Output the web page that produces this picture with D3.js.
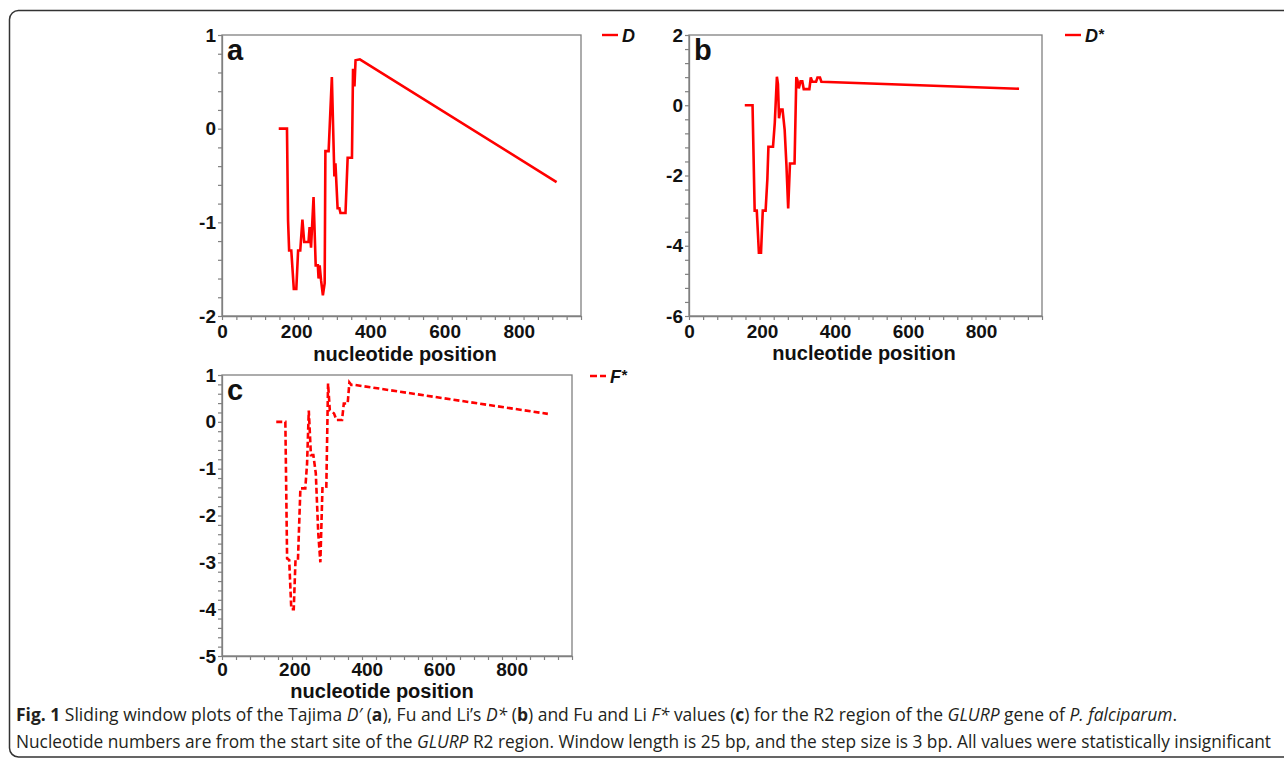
<!DOCTYPE html>
<html>
<head>
<meta charset="utf-8">
<script src="https://cdn.jsdelivr.net/npm/d3@7"></script>
<style>
  html, body { margin: 0; padding: 0; background: #fff; }
  svg { display: block; }
</style>
</head>
<body>
<svg id="chart" width="1284" height="770"></svg>
<script>
// ---------------- data ----------------
const xTickLabels = [0, 200, 400, 600, 800];

// (a) Tajima D
const aPos = [158,181,184,187,193,200,207,212,218,224,229,241,244,248,255,261,267,269,272,276,281,286,288,297,306,313,316,322,327,330,344,350,362,365,369,372,384,932];
const aD   = [0,0,-0.98,-1.30,-1.30,-1.71,-1.71,-1.30,-1.30,-0.97,-1.21,-1.21,-1.05,-1.27,-0.73,-1.46,-1.46,-1.60,-1.46,-1.62,-1.78,-1.65,-0.24,-0.24,0.55,-0.51,-0.37,-0.85,-0.85,-0.90,-0.90,-0.31,-0.31,0.64,0.45,0.73,0.74,-0.57];
const aYTicks = [1, 0, -1, -2];

// (b) Fu and Li's D*
const bPos   = [158,180,186,192,198,204,209,217,222,225,238,243,249,252,255,259,265,271,276,281,286,299,304,307,311,316,321,325,341,345,349,360,364,371,375,935];
const bDstar = [0,0,-3.0,-3.0,-4.2,-4.2,-3.0,-3.0,-2.1,-1.18,-1.18,-0.5,0.81,0.6,-0.37,-0.12,-0.12,-0.7,-1.7,-2.94,-1.66,-1.66,0.8,0.72,0.48,0.68,0.68,0.46,0.46,0.79,0.67,0.67,0.79,0.79,0.67,0.47];
const bYTicks = [2, 0, -2, -4, -6];

// (c) Fu and Li's F*
const cPos   = [155,181,186,192,198,205,210,217,224,238,243,248,254,261,268,275,281,287,298,303,308,314,320,327,343,348,359,364,369,378,931];
const cFstar = [0,0,-2.92,-2.95,-4.0,-4.0,-2.95,-2.95,-1.42,-1.42,-0.9,0.24,-0.71,-0.71,-1.1,-2.38,-3.0,-1.42,-1.42,0.82,0.25,0.22,0.18,0.04,0.04,0.39,0.39,0.84,0.79,0.79,0.17];
const cYTicks = [1, 0, -1, -2, -3, -4, -5];

// ---------------- drawing ----------------
const svg = d3.select("#chart");
const RED = "#ff0000";
const FRAME = "#808080";
const LABEL_FONT = "Liberation Sans, Arial, sans-serif";

// outer rounded border (right side runs off the page)
svg.append("path")
  .attr("d", "M1295,10.5 H19 A9,9 0 0 0 9.5,19.5 V748 A9,9 0 0 0 18.5,757 H1295")
  .attr("fill", "none").attr("stroke", "#333").attr("stroke-width", 1.5);

const panels = [
  { left: 222, top: 35, right: 581, bottom: 316, yDom: [-2, 1], yMinor: 0.2,
    pos: aPos, val: aD, yTicks: aYTicks, dash: null, letter: "a", xLabY: 22,
    titleX: 405, titleY: 361, legX: 602, legY: 35, legText: "D", legStar: false },
  { left: 689, top: 35, right: 1042, bottom: 316, yDom: [-6, 2], yMinor: 0.4,
    pos: bPos, val: bDstar, yTicks: bYTicks, dash: null, letter: "b", xLabY: 22,
    titleX: 864, titleY: 360, legX: 1065, legY: 35, legText: "D", legStar: true },
  { left: 222, top: 375, right: 572, bottom: 656, yDom: [-5, 1], yMinor: 0.2,
    pos: cPos, val: cFstar, yTicks: cYTicks, dash: "6,3", letter: "c", xLabY: 20,
    titleX: 382, titleY: 698, legX: 590, legY: 376, legText: "F", legStar: true }
];

panels.forEach(p => {
  const g = svg.append("g");
  const x = d3.scaleLinear().domain([0, 1000]).range([p.left, p.right]);
  const y = d3.scaleLinear().domain(p.yDom).range([p.bottom, p.top]);

  // frame
  g.append("rect")
    .attr("x", p.left).attr("y", p.top)
    .attr("width", p.right - p.left).attr("height", p.bottom - p.top)
    .attr("fill", "none").attr("stroke", FRAME).attr("stroke-width", 1.3);

  // x axis
  const xTickVals = d3.range(0, 26).map(i => i * 40);
  const xAxis = d3.axisBottom(x).tickValues(xTickVals).tickSize(4).tickSizeOuter(0)
    .tickFormat(d => xTickLabels.includes(d) ? String(d) : "");
  const gx = g.append("g").attr("transform", `translate(0,${p.bottom})`).call(xAxis);
  gx.select(".domain").attr("stroke", FRAME).attr("stroke-width", 1.3);
  gx.selectAll(".tick line").attr("stroke", FRAME).attr("stroke-width", 1.2);
  gx.selectAll(".tick text")
    .attr("font-family", LABEL_FONT)
    .attr("font-weight", "bold").attr("font-size", 19).attr("fill", "#111")
    .attr("dy", null).attr("y", p.xLabY)
    .attr("x", d => d * 0.012);

  // y axis
  const [ymin, ymax] = p.yDom;
  const nMinor = Math.round((ymax - ymin) / p.yMinor);
  const yTickVals = d3.range(0, nMinor + 1).map(i => +(ymin + i * p.yMinor).toFixed(6));
  const yAxis = d3.axisLeft(y).tickValues(yTickVals).tickSize(4).tickSizeOuter(0)
    .tickFormat(d => p.yTicks.some(t => Math.abs(t - d) < 1e-6) ? String(Math.round(d)) : "");
  const gy = g.append("g").attr("transform", `translate(${p.left},0)`).call(yAxis);
  gy.select(".domain").attr("stroke", FRAME).attr("stroke-width", 1.3);
  gy.selectAll(".tick line").attr("stroke", FRAME).attr("stroke-width", 1.2);
  gy.selectAll(".tick text")
    .attr("font-family", LABEL_FONT)
    .attr("font-weight", "bold").attr("font-size", 19).attr("fill", "#111")
    .attr("x", -6);

  // axis title
  g.append("text")
    .attr("x", p.titleX).attr("y", p.titleY).attr("text-anchor", "middle")
    .attr("font-family", LABEL_FONT)
    .attr("font-weight", "bold").attr("font-size", 20).attr("fill", "#111")
    .text("nucleotide position");

  // panel letter
  g.append("text")
    .attr("x", p.left + 5).attr("y", p.top + 25)
    .attr("font-family", LABEL_FONT)
    .attr("font-weight", "bold").attr("font-size", 29).attr("fill", "#111")
    .text(p.letter);

  // line
  const pts = p.pos.map((d, i) => [d, p.val[i]]);
  const line = d3.line().x(d => x(d[0])).y(d => y(d[1]));
  g.append("path").datum(pts)
    .attr("d", line)
    .attr("fill", "none").attr("stroke", RED).attr("stroke-width", 2.6)
    .attr("stroke-linejoin", "miter").attr("stroke-miterlimit", 3)
    .attr("stroke-dasharray", p.dash);

  // legend
  g.append("line")
    .attr("x1", p.legX).attr("x2", p.legX + 16)
    .attr("y1", p.legY).attr("y2", p.legY)
    .attr("stroke", RED).attr("stroke-width", 2.4)
    .attr("stroke-dasharray", p.dash ? "7,3" : null);
  const lt = g.append("text")
    .attr("x", p.legX + 20).attr("y", p.legY + 7)
    .attr("font-family", LABEL_FONT)
    .attr("font-weight", "bold").attr("font-style", "italic")
    .attr("font-size", 18).attr("fill", "#111");
  lt.append("tspan").text(p.legText);
  if (p.legStar) lt.append("tspan").attr("dy", -3).attr("font-size", 15).text("*");
});

// ---------------- caption ----------------
const capFont = "Open Sans, Noto Sans, sans-serif";
function caption(parts, yBase, targetWidth) {
  const t = svg.append("text")
    .attr("font-family", capFont).attr("font-size", 18).attr("fill", "#231f20")
    .attr("x", 0).attr("y", 0);
  parts.forEach(([s, style]) => {
    const ts = t.append("tspan").text(s);
    if (style === "b") ts.attr("font-weight", "bold");
    if (style === "i") ts.attr("font-style", "italic");
  });
  const w = t.node().getComputedTextLength();
  t.attr("transform", `translate(16,${yBase}) scale(${targetWidth / w},1)`);
}
caption([
  ["Fig. 1", "b"], [" Sliding window plots of the Tajima ", ""], ["D′", "i"], [" (", ""], ["a", "b"],
  ["), Fu and Li’s ", ""], ["D*", "i"], [" (", ""], ["b", "b"], [") and Fu and Li ", ""], ["F*", "i"],
  [" values (", ""], ["c", "b"], [") for the R2 region of the ", ""], ["GLURP", "i"],
  [" gene of ", ""], ["P. falciparum", "i"], [".", ""]
], 721, 1162);
caption([
  ["Nucleotide numbers are from the start site of the ", ""], ["GLURP", "i"],
  [" R2 region. Window length is 25 bp, and the step size is 3 bp. All values were statistically insignificant", ""]
], 748, 1256);
</script>
</body>
</html>
